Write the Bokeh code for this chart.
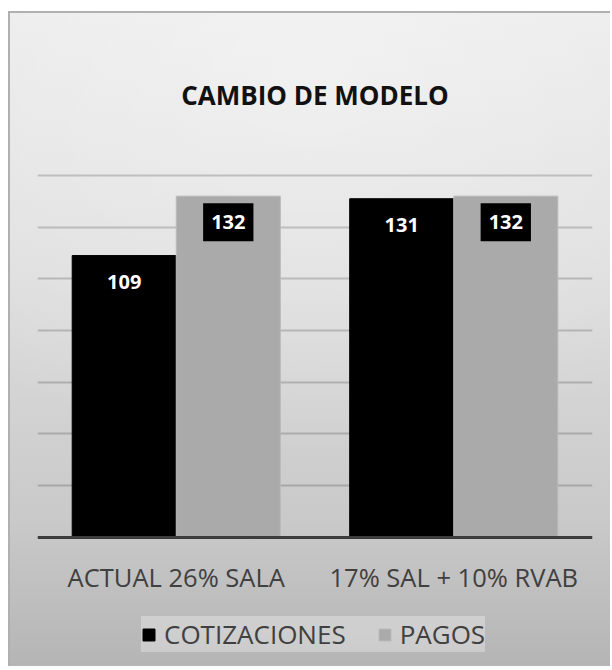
from bokeh.plotting import figure
from bokeh.models import (ColumnDataSource, FactorRange, Range1d, FixedTicker,
                          Legend, LegendItem)
from bokeh.core.properties import value
from bokeh.transform import dodge
from bokeh.embed import file_html
from bokeh.resources import INLINE

# ---- data ----
categories = ["ACTUAL 26% SALA", "17% SAL + 10% RVAB"]
series = ["COTIZACIONES", "PAGOS"]
cotizaciones = [109, 131]
pagos = [132, 132]
grid_ticks = [20, 40, 60, 80, 100, 120, 140]

src = ColumnDataSource(dict(
    cat=categories,
    cot=cotizaciones,
    pag=pagos,
    cot_txt=[str(v) for v in cotizaciones],
    pag_txt=[str(v) for v in pagos],
))

# ---- layout (pixels) ----
W, H = 602, 655
TOP, LEFT, RIGHT = 158, 27, 20
TOP_TICK_PX = 160                  # canvas y of the highest gridline
AXIS_PX = 523                      # canvas y of the value 0
y_max = max(grid_ticks)
px_per_unit = (AXIS_PX - TOP_TICK_PX) / y_max
y_end = y_max + (TOP_TICK_PX - TOP) / px_per_unit
y_min = -(H - AXIS_PX) / px_per_unit  # frame reaches the bottom edge (room for labels + legend)

p = figure(
    x_range=FactorRange(factors=categories, range_padding=0),
    y_range=Range1d(y_min, y_end),
    width=W, height=H,
    output_backend="svg", toolbar_location=None,
    min_border_left=LEFT, min_border_right=RIGHT, min_border_top=TOP, min_border_bottom=0,
    title="CAMBIO DE MODELO",
)
p.styles = {
    "margin-top": "11px",
    "margin-left": "8px",
    "border-left": "2px solid #b0b0b0",
    "border-top": "2px solid #b0b0b0",
    "background": "radial-gradient(ellipse 90% 60% at 50% 8%, rgba(255,255,255,0.4), rgba(255,255,255,0) 100%), "
                  "linear-gradient(to bottom, #eaeaea 0%, #dedede 40%, #c9c9c9 78%, #b5b5b5 100%)",
}
p.background_fill_color = None
p.border_fill_color = None
p.outline_line_color = None

p.title.align = "center"
p.title.text_font = "Open Sans"
p.title.text_font_size = "26px"
p.title.text_font_style = "bold"
p.title.text_color = "#111111"
p.title.standoff = 122

w = 0.375
r1 = p.vbar(x=dodge("cat", -w / 2, range=p.x_range), top="cot", width=w, source=src,
            fill_color="#000000", line_color="#000000")
r2 = p.vbar(x=dodge("cat", w / 2, range=p.x_range), top="pag", width=w, source=src,
            fill_color="#aaaaaa", line_color="#bababa", line_width=1)

for col, txt, off in (("cot", "cot_txt", -w / 2), ("pag", "pag_txt", w / 2)):
    p.text(x=dodge("cat", off, range=p.x_range), y=col, text=txt, source=src,
           y_offset=26, text_align="center", text_baseline="middle",
           text_font=value("Open Sans"), text_font_style="bold", text_font_size="20px",
           text_color="white", background_fill_color="black", padding=(8, 12))

# gridlines
p.yaxis.visible = False
p.xaxis.visible = False
p.xgrid.grid_line_color = None
p.ygrid.ticker = FixedTicker(ticks=grid_ticks)
p.ygrid.grid_line_color = "black"
p.ygrid.grid_line_alpha = 0.18
p.ygrid.grid_line_width = 2

# category axis (baseline + labels)
p.hspan(y=[0], line_color="#3c3c3c", line_width=3)
p.text(x="cat", y=0, text="cat", source=src, y_offset=40,
       text_align="center", text_baseline="middle",
       text_font=value("Open Sans"), text_font_size="25.5px", text_color="#404040")

legend = Legend(
    items=[LegendItem(label=series[0], renderers=[r1]),
           LegendItem(label=series[1], renderers=[r2])],
    orientation="horizontal", location=(104, 16),
    label_text_font="Open Sans", label_text_font_size="26px", label_text_color="#404040",
    glyph_width=15, glyph_height=15, label_standoff=8, spacing=31,
    label_height=24, padding=20, margin=0,
    background_fill_color="#ffffff", background_fill_alpha=0.3,
    border_line_color=None,
)
p.add_layout(legend)

open("out.html", "w").write(file_html(p, INLINE))
